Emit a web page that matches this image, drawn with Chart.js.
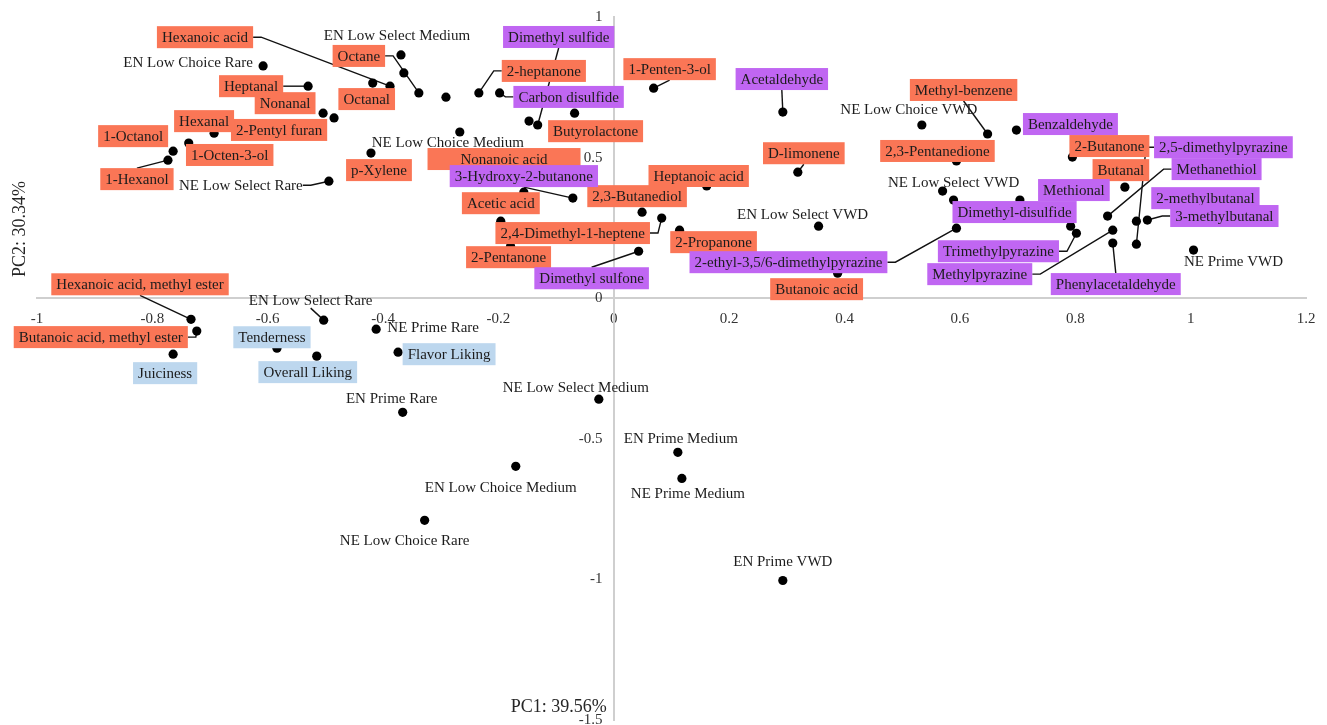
<!DOCTYPE html>
<html>
<head>
<meta charset="utf-8">
<script src="https://cdn.jsdelivr.net/npm/chart.js@4.4.1/dist/chart.umd.min.js"></script>
<style>
  html, body { margin: 0; padding: 0; background: #ffffff; }
  canvas { display: block; }
</style>
</head>
<body>
<canvas id="biplot" width="1327" height="725"></canvas>
<script>
// ---- Scores: beef samples (PC1, PC2) ----
const sampleNames = [
  'EN Low Choice Rare', 'EN Low Select Medium', 'NE Low Choice Medium', 'NE Low Select Rare',
  'NE Low Choice VWD', 'NE Low Select VWD', 'EN Low Select VWD', 'NE Prime VWD',
  'EN Low Select Rare', 'NE Prime Rare', 'NE Low Select Medium', 'EN Prime Rare',
  'EN Prime Medium', 'NE Prime Medium', 'EN Low Choice Medium', 'NE Low Choice Rare', 'EN Prime VWD'
];
const sampleX = [-0.608, -0.369, -0.267, -0.494, 0.534, 0.570, 0.355, 1.005,
                 -0.503, -0.412, -0.026, -0.366, 0.111, 0.118, -0.170, -0.328, 0.293];
const sampleY = [0.826, 0.865, 0.591, 0.416, 0.616, 0.381, 0.256, 0.171,
                 -0.078, -0.110, -0.359, -0.406, -0.548, -0.641, -0.598, -0.790, -1.004];

// ---- Loadings: consumer sensory attributes ----
const sensoryNames = ['Tenderness', 'Juiciness', 'Overall Liking', 'Flavor Liking'];
const sensoryX = [-0.584, -0.764, -0.515, -0.374];
const sensoryY = [-0.178, -0.199, -0.206, -0.192];

// ---- Loadings: volatile compounds, first set ----
const volatileSetANames = [
  'Hexanoic acid', 'Octane', 'Octanal', 'Heptanal', 'Nonanal', '2-Pentyl furan', 'Hexanal',
  '1-Octanol', '1-Octen-3-ol', '1-Hexanol', 'p-Xylene', '2-heptanone', 'Butyrolactone',
  'Nonanoic acid', 'Acetic acid', '2,3-Butanediol', '2,4-Dimethyl-1-heptene', '2-Pentanone',
  'Heptanoic acid', '1-Penten-3-ol', 'D-limonene', '2-Propanone', 'Butanoic acid',
  'Methyl-benzene', '2,3-Pentanedione', '2-Butanone', 'Butanal',
  'Hexanoic acid, methyl ester', 'Butanoic acid, methyl ester'
];
const volatileSetAX = [-0.388, -0.338, -0.418, -0.530, -0.504, -0.485, -0.693,
                       -0.764, -0.737, -0.773, -0.421, -0.234, -0.068,
                       -0.147, -0.156, 0.049, 0.083, -0.179,
                       0.161, 0.069, 0.319, 0.114, 0.388,
                       0.648, 0.594, 0.795, 0.886,
                       -0.733, -0.723];
const volatileSetAY = [0.754, 0.730, 0.765, 0.754, 0.658, 0.641, 0.587,
                       0.523, 0.552, 0.491, 0.516, 0.730, 0.658,
                       0.630, 0.377, 0.306, 0.285, 0.185,
                       0.399, 0.747, 0.448, 0.242, 0.089,
                       0.584, 0.488, 0.502, 0.395,
                       -0.075, -0.117];

// ---- Loadings: volatile compounds, second set ----
const volatileSetBNames = [
  'Dimethyl sulfide', 'Carbon disulfide', '3-Hydroxy-2-butanone', 'Dimethyl sulfone',
  'Acetaldehyde', 'Benzaldehyde', '2,5-dimethylpyrazine', 'Methanethiol', 'Methional',
  'Dimethyl-disulfide', 'Trimethylpyrazine', '2-ethyl-3,5/6-dimethylpyrazine',
  'Methylpyrazine', 'Phenylacetaldehyde', '2-methylbutanal', '3-methylbutanal'
];
const volatileSetBX = [-0.132, -0.198, -0.071, 0.043, 0.293, 0.698, 0.906, 0.856, 0.704,
                       0.589, 0.802, 0.594, 0.865, 0.865, 0.906, 0.925];
const volatileSetBY = [0.616, 0.730, 0.356, 0.167, 0.662, 0.598, 0.192, 0.292, 0.349,
                       0.349, 0.231, 0.249, 0.242, 0.196, 0.274, 0.278];

// ---- Loadings drawn without a label ----
const unlabeledX = [-0.364, -0.291, -0.196, 0.792];
const unlabeledY = [0.801, 0.715, 0.274, 0.256];

// ---- Axis ticks ----
const xTicks = [-1, -0.8, -0.6, -0.4, -0.2, 0, 0.2, 0.4, 0.6, 0.8, 1, 1.2];
const yTicks = [-1.5, -1, -0.5, 0, 0.5, 1];

// ---- Label placement: pixel offset of the label centre from its point, optional leader ----
const labelOffset = {
  'EN Low Choice Rare': [-75, -4], 'EN Low Select Medium': [-4, -20],
  'NE Low Choice Medium': [-12, 10], 'NE Low Select Rare': [-88, 4, true],
  'NE Low Choice VWD': [-13, -16], 'NE Low Select VWD': [11, -9],
  'EN Low Select VWD': [-16, -12], 'NE Prime VWD': [40, 11],
  'EN Low Select Rare': [-13, -20, true], 'NE Prime Rare': [57, -2],
  'NE Low Select Medium': [-23, -12], 'EN Prime Rare': [-11, -14],
  'EN Prime Medium': [3, -14], 'NE Prime Medium': [6, 15],
  'EN Low Choice Medium': [-15, 21], 'NE Low Choice Rare': [-20, 20], 'EN Prime VWD': [0, -19],

  'Tenderness': [-5, -11], 'Juiciness': [-8, 19], 'Overall Liking': [-9, 16], 'Flavor Liking': [51, 2],

  'Hexanoic acid': [-185, -49, true], 'Octane': [-60, -37, true], 'Octanal': [-6, 16],
  'Heptanal': [-57, 0, true], 'Nonanal': [-38, -10], '2-Pentyl furan': [-55, 12],
  'Hexanal': [-10, -12], '1-Octanol': [-40, -15], '1-Octen-3-ol': [41, 12],
  '1-Hexanol': [-31, 19, true], 'p-Xylene': [8, 17], '2-heptanone': [65, -22, true],
  'Butyrolactone': [21, 18], 'Nonanoic acid': [-25, 38, false, 153], 'Acetic acid': [-23, 11],
  '2,3-Butanediol': [-5, -16], '2,4-Dimethyl-1-heptene': [-89, 15, true],
  '2-Pentanone': [-2, 11], 'Heptanoic acid': [-8, -10], '1-Penten-3-ol': [16, -19, true],
  'D-limonene': [6, -19, true], '2-Propanone': [34, 12], 'Butanoic acid': [-21, 16],
  'Methyl-benzene': [-24, -44, true], '2,3-Pentanedione': [-19, -10], '2-Butanone': [37, -11],
  'Butanal': [-4, -17], 'Hexanoic acid, methyl ester': [-51, -35, true],
  'Butanoic acid, methyl ester': [-96, 6, true],

  'Dimethyl sulfide': [21, -88, true], 'Carbon disulfide': [69, 4, true],
  '3-Hydroxy-2-butanone': [-49, -22, true], 'Dimethyl sulfone': [-47, 27, true],
  'Acetaldehyde': [-1, -33, true], 'Benzaldehyde': [54, -6],
  '2,5-dimethylpyrazine': [87, -97, true], 'Methanethiol': [109, -47, true],
  'Methional': [54, -10], 'Dimethyl-disulfide': [61, 12], 'Trimethylpyrazine': [-78, 18, true],
  '2-ethyl-3,5/6-dimethylpyrazine': [-168, 34, true], 'Methylpyrazine': [-133, 44, true],
  'Phenylacetaldehyde': [3, 41, true], '2-methylbutanal': [69, -23], '3-methylbutanal': [77, -4, true]
};

const boxFill = { plain: null, sensory: '#BDD7EE', setA: '#FA7656', setB: '#C066F2' };
const LABEL_FONT = '15px "Liberation Serif", "Times New Roman", serif';
const TEXT_COLOR = '#1c1c1c';

const toPoints = (xs, ys) => xs.map((x, i) => ({ x: x, y: ys[i] }));

// Work out every label rectangle from the point's pixel position
function labelBoxes(chart) {
  const ctx = chart.ctx;
  const xs = chart.scales.x, ys = chart.scales.y;
  const out = [];
  ctx.save();
  ctx.font = LABEL_FONT;
  chart.data.datasets.forEach(ds => {
    if (!ds.names) return;
    ds.data.forEach((p, i) => {
      const name = ds.names[i];
      const off = labelOffset[name] || [0, -14];
      const px = xs.getPixelForValue(p.x), py = ys.getPixelForValue(p.y);
      const tw = ctx.measureText(name).width;
      const boxed = !!boxFill[ds.style];
      let w = boxed ? tw + 10 : tw;
      if (off[3]) w = Math.max(w, off[3]);
      const h = boxed ? 22 : 16;
      const cx = px + off[0], cy = py + off[1];
      out.push({ name, px, py, cx, cy, w, h, l: cx - w / 2, r: cx + w / 2, t: cy - h / 2, b: cy + h / 2,
                 leader: !!off[2], fill: boxFill[ds.style] });
    });
  });
  ctx.restore();
  return out;
}

const labelPlugin = {
  id: 'biplotLabels',
  beforeDatasetsDraw(chart) {
    const ctx = chart.ctx;
    ctx.save();
    ctx.strokeStyle = '#111111';
    ctx.lineWidth = 1.4;
    labelBoxes(chart).filter(b => b.leader).forEach(b => {
      const ELB = 8;
      ctx.beginPath();
      if (b.px > b.r) {
        ctx.moveTo(b.r, b.cy); ctx.lineTo(b.r + ELB, b.cy);
      } else if (b.px < b.l) {
        ctx.moveTo(b.l, b.cy); ctx.lineTo(b.l - ELB, b.cy);
      } else if (b.py > b.b) {
        ctx.moveTo(b.cx, b.b);
      } else {
        ctx.moveTo(b.cx, b.t);
      }
      ctx.lineTo(b.px, b.py);
      ctx.stroke();
    });
    ctx.restore();
  },
  afterDatasetsDraw(chart) {
    const ctx = chart.ctx;
    ctx.save();
    ctx.font = LABEL_FONT;
    ctx.textAlign = 'center';
    ctx.textBaseline = 'middle';
    labelBoxes(chart).forEach(b => {
      if (b.fill) {
        ctx.fillStyle = b.fill;
        ctx.fillRect(b.l, b.t, b.w, b.h);
      }
      ctx.fillStyle = TEXT_COLOR;
      ctx.fillText(b.name, b.cx, b.cy + 1);
    });

    // Axis titles
    const area = chart.chartArea;
    const xs = chart.scales.x;
    ctx.font = '18px "Liberation Serif", "Times New Roman", serif';
    ctx.fillStyle = '#262626';
    ctx.fillText('PC1: 39.56%', xs.getPixelForValue(0) - 55, area.bottom - 13);
    ctx.translate(20, 229);
    ctx.rotate(-Math.PI / 2);
    ctx.fillText('PC2: 30.34%', 0, 0);
    ctx.restore();
  }
};

// Axes sit inside the plot, so their label overhang must not shrink the plot area
const noOverhang = scale => {
  scale.paddingTop = 0; scale.paddingBottom = 0;
  scale.paddingLeft = 0; scale.paddingRight = 0;
};

const pointStyle = { pointRadius: 4.6, pointHoverRadius: 4.6, backgroundColor: '#000000', borderWidth: 0 };
const tickFont = { family: '"Liberation Serif", "Times New Roman", serif', size: 15 };

new Chart(document.getElementById('biplot'), {
  type: 'scatter',
  data: {
    datasets: [
      Object.assign({ label: 'Samples', data: toPoints(sampleX, sampleY), names: sampleNames, style: 'plain' }, pointStyle),
      Object.assign({ label: 'Sensory', data: toPoints(sensoryX, sensoryY), names: sensoryNames, style: 'sensory' }, pointStyle),
      Object.assign({ label: 'Volatiles A', data: toPoints(volatileSetAX, volatileSetAY), names: volatileSetANames, style: 'setA' }, pointStyle),
      Object.assign({ label: 'Volatiles B', data: toPoints(volatileSetBX, volatileSetBY), names: volatileSetBNames, style: 'setB' }, pointStyle),
      Object.assign({ label: 'Other', data: toPoints(unlabeledX, unlabeledY) }, pointStyle)
    ]
  },
  options: {
    responsive: false,
    animation: false,
    layout: { padding: { left: 37, right: 21, top: 17, bottom: 5 } },
    plugins: { legend: { display: false }, tooltip: { enabled: false } },
    scales: {
      x: {
        type: 'linear',
        position: { y: 0 },
        min: -1, max: 1.2,
        afterBuildTicks: axis => { axis.ticks = xTicks.map(v => ({ value: v })); },
        afterFit: noOverhang,
        grid: { display: false, drawTicks: false },
        border: { display: true, color: '#cfcfcf', width: 2 },
        ticks: {
          padding: 12,
          maxRotation: 0,
          autoSkip: false,
          color: '#333333',
          font: tickFont,
          callback: v => String(v)
        }
      },
      y: {
        type: 'linear',
        position: { x: 0 },
        min: -1.5, max: 1,
        afterBuildTicks: axis => { axis.ticks = yTicks.map(v => ({ value: v })); },
        afterFit: noOverhang,
        grid: { display: false, drawTicks: false },
        border: { display: true, color: '#cfcfcf', width: 2 },
        ticks: {
          autoSkip: false,
          color: '#333333',
          font: tickFont,
          // right-aligned against the crossing axis; trailing gap keeps them off the line
          callback: v => String(v) + '   '
        }
      }
    }
  },
  plugins: [labelPlugin]
});
</script>
</body>
</html>
